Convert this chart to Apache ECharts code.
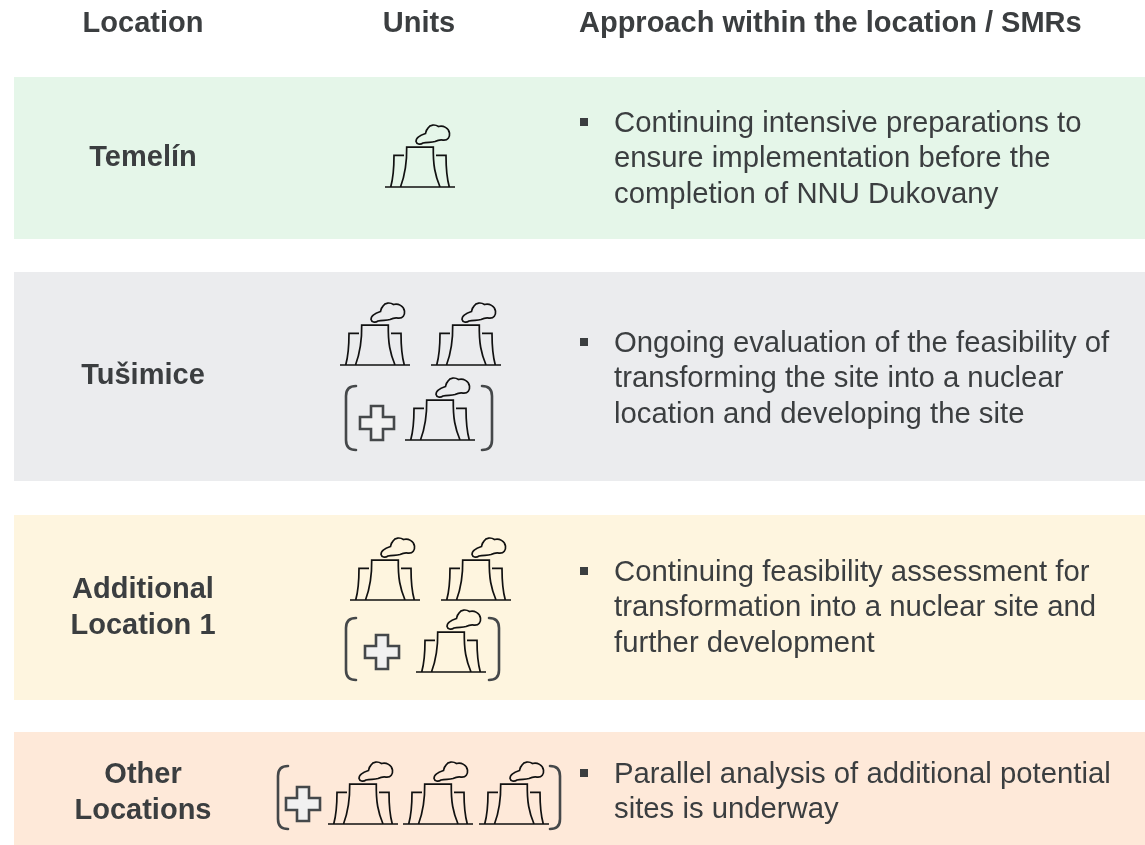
<!DOCTYPE html>
<html lang="en">
<head>
<meta charset="UTF-8">
<title>SMR locations</title>
<style>
  body { margin: 0; padding: 0; background: #fff; }
  #chart { width: 1145px; height: 845px; }
</style>
</head>
<body>
<div id="chart"></div>
<script src="https://cdn.jsdelivr.net/npm/echarts@6/dist/echarts.min.js"></script>
<script>
var headers = ['Location', 'Units', 'Approach within the location / SMRs'];
var locations = [['Temelín'], ['Tušimice'], ['Additional', 'Location 1'], ['Other', 'Locations']];
var approaches = [
  ['Continuing intensive preparations to', 'ensure implementation before the', 'completion of NNU Dukovany'],
  ['Ongoing evaluation of the feasibility of', 'transforming the site into a nuclear', 'location and developing the site'],
  ['Continuing feasibility assessment for', 'transformation into a nuclear site and', 'further development'],
  ['Parallel analysis of additional potential', 'sites is underway']
];

// layout, one entry per row
var rowTop = [77, 272, 515, 732];
var rowBottom = [239, 481, 700, 845];
var rowColor = ['#e5f6e9', '#ebecee', '#fef5df', '#fee9d9'];
var firstLineY = [124, 344, 573, 775];
var labelY = [158, 376, 590, 775];
var unitPos = [
  [[385, 187]],
  [[340, 365], [431, 365], [405, 440]],
  [[350, 600], [441, 600], [416, 672]],
  [[328, 824], [403, 824], [479, 824]]
];
var plusPos = [null, [377, 423], [382, 652], [303, 804]];
var bracketPos = [null, [346, 386, 492, 450], [346, 618, 499, 680], [278, 766, 560, 829]];

var TEXT = '#3b3e40';
var FONT = '"Liberation Sans", Arial, sans-serif';
var HEAD_SIZE = 29, BODY_SIZE = 29.3;

var towerPath = 'M0 0L70 0M15.5 0C20 -12 22 -22 21.7 -40L48.3 -40C48 -22 50 -12 55 0' +
  'M5.7 0C8 -8 9 -18 9 -31.7L19 -31.7M51 -31.7L61 -31.7C61 -18 62 -8 64.3 0' +
  'M31 -45.7C31.5 -43 35 -42 38 -44C42 -45.5 46 -44 50 -45.5C53 -47 55 -47.5 58 -47' +
  'C63 -46.5 65 -50 64.5 -54C64 -59 58 -62 53.5 -60.5C50 -63 45 -62.5 43 -59' +
  'C41 -57 41 -55 40.5 -53.5C36 -52 31 -49 31 -45.7Z';
var plusPath = 'M-6 -17L6 -17L6 -6L17 -6L17 6L6 6L6 17L-6 17L-6 6L-17 6L-17 -6L-6 -6Z';

function textEl(str, x, y, size, weight, align) {
  return {
    type: 'text', x: x, y: y, z: 10,
    style: {
      text: str, fill: TEXT, font: weight + ' ' + size + 'px ' + FONT,
      textAlign: align, textVerticalAlign: 'middle'
    }
  };
}

var els = [];
var labelX = 143, textX = 614;
els.push(textEl(headers[0], 143, 24, HEAD_SIZE, 'bold', 'center'));
els.push(textEl(headers[1], 419, 24, HEAD_SIZE, 'bold', 'center'));
els.push(textEl(headers[2], 579, 24, HEAD_SIZE, 'bold', 'left'));

rowTop.forEach(function (top, i) {
  locations[i].forEach(function (line, j) {
    els.push(textEl(line, labelX, labelY[i] + j * 35.5, HEAD_SIZE, 'bold', 'center'));
  });
  approaches[i].forEach(function (line, j) {
    els.push(textEl(line, textX, firstLineY[i] + j * 35.3, BODY_SIZE, 'normal', 'left'));
  });
  els.push({
    type: 'rect', z: 10,
    shape: { x: 580, y: firstLineY[i] - 6, width: 8, height: 8 },
    style: { fill: TEXT }
  });
});

function bandData() {
  return rowTop.map(function (top, i) { return [14, top, 1145, rowBottom[i], i]; });
}

function renderBand(params, api) {
  var a = api.coord([api.value(0), api.value(1)]);
  var b = api.coord([api.value(2), api.value(3)]);
  return {
    type: 'rect',
    shape: { x: a[0], y: a[1], width: b[0] - a[0], height: b[1] - a[1] },
    style: { fill: rowColor[api.value(4)] }
  };
}

function renderTower(params, api) {
  var p = api.coord([api.value(0), api.value(1)]);
  return {
    type: 'path',
    shape: { pathData: towerPath, layout: 'cover', x: p[0], y: p[1] - 62, width: 70, height: 62 },
    style: { fill: 'none', stroke: '#111', lineWidth: 1.7 }
  };
}

function renderPlus(params, api) {
  var p = api.coord([api.value(0), api.value(1)]);
  return {
    type: 'path',
    shape: { pathData: plusPath, layout: 'cover', x: p[0] - 17, y: p[1] - 17, width: 34, height: 34 },
    style: { fill: '#f1f1f1', stroke: '#45484a', lineWidth: 2.6 }
  };
}

function renderBracket(params, api) {
  var a = api.coord([api.value(0), api.value(1)]);
  var b = api.coord([api.value(2), api.value(3)]);
  var w = 10, h = b[1] - a[1];
  var common = { fill: 'none', stroke: '#45484a', lineWidth: 2.6, lineCap: 'round' };
  var left = 'M' + w + ' 0Q0 0 0 ' + w + 'L0 ' + (h - w) + 'Q0 ' + h + ' ' + w + ' ' + h;
  var right = 'M0 0Q' + w + ' 0 ' + w + ' ' + w + 'L' + w + ' ' + (h - w) + 'Q' + w + ' ' + h + ' 0 ' + h;
  return {
    type: 'group',
    children: [
      { type: 'path', shape: { pathData: left, layout: 'cover', x: a[0], y: a[1], width: w, height: h }, style: common },
      { type: 'path', shape: { pathData: right, layout: 'cover', x: b[0] - w, y: a[1], width: w, height: h }, style: common }
    ]
  };
}

function customSeries(data, render, dims, z) {
  return {
    type: 'custom', silent: true, z: z, clip: false,
    encode: { x: dims.x, y: dims.y },
    data: data, renderItem: render
  };
}

var myChart = echarts.init(document.getElementById('chart'));
myChart.setOption({
  animation: false,
  grid: { left: 0, top: 0, width: 1145, height: 845 },
  xAxis: { type: 'value', min: 0, max: 1145, show: false },
  yAxis: { type: 'value', min: 0, max: 845, inverse: true, show: false },
  series: [
    customSeries(bandData(), renderBand, { x: [0, 2], y: [1, 3] }, 1),
    customSeries(unitPos.reduce(function (all, r) { return all.concat(r); }, []), renderTower, { x: 0, y: 1 }, 2),
    customSeries(plusPos.filter(Boolean), renderPlus, { x: 0, y: 1 }, 2),
    customSeries(bracketPos.filter(Boolean), renderBracket, { x: [0, 2], y: [1, 3] }, 2)
  ],
  graphic: { elements: els }
});
</script>
</body>
</html>
